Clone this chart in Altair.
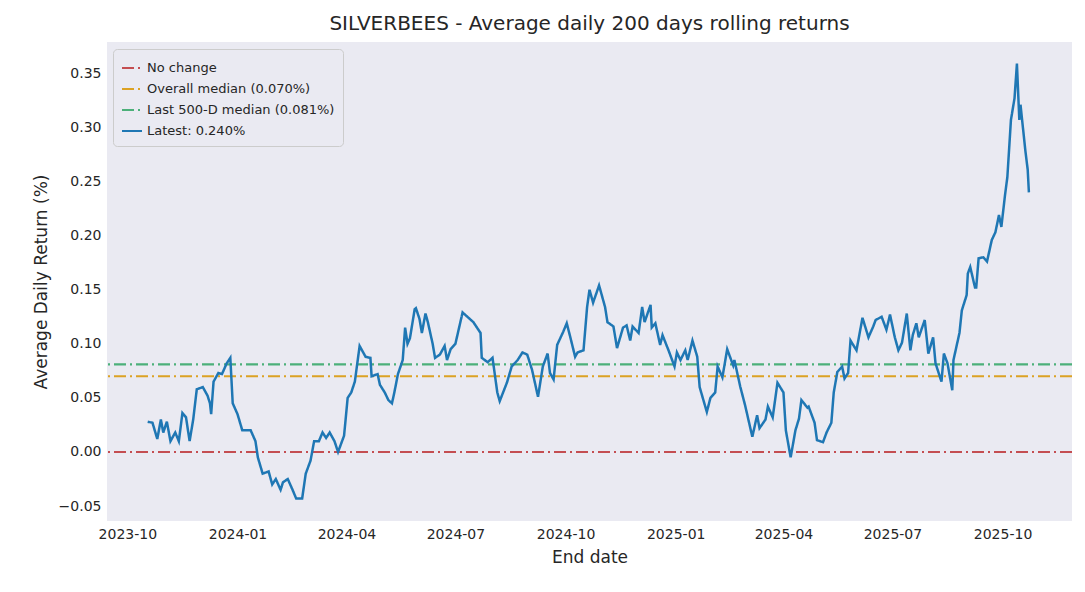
import altair as alt
import pandas as pd

# days since 2023-10-01 and the rolling average daily return (%)
days = [17, 21, 25, 28, 30, 33, 36, 40, 43, 46, 49, 52, 55, 58, 63, 67, 69, 70, 72, 76,
        79, 83, 86, 88, 92, 96, 103, 107, 109, 113, 118, 121, 124, 128, 130, 134, 138, 141, 146, 149,
        153, 156, 160, 163, 166, 169, 173, 176, 181, 184, 187, 190, 194, 197, 199, 203, 204, 209, 211, 215,
        218, 221, 223, 226, 230, 232, 234, 236, 240, 241, 244, 246, 249, 251, 255, 257, 261, 265, 267, 270,
        274, 280, 289, 295, 296, 301, 305, 309, 311, 317, 321, 326, 330, 334, 338, 343, 347, 351, 353, 356,
        359, 364, 367, 370, 374, 376, 381, 384, 386, 389, 394, 399, 401, 406, 409, 414, 417, 420, 422, 427,
        430, 432, 437, 438, 441, 445, 447, 452, 457, 459, 462, 466, 468, 472, 476, 478, 484, 487, 491, 493,
        497, 501, 506, 507, 512, 516, 522, 526, 528, 533, 535, 539, 543, 548, 550, 554, 558, 561, 563, 568,
        569, 574, 576, 581, 584, 588, 590, 593, 597, 599, 602, 604, 609, 614, 619, 623, 625, 630, 634, 637,
        641, 644, 647, 651, 654, 656, 659, 661, 666, 669, 673, 675, 680, 682, 685, 689, 690, 695, 697, 701,
        702, 704, 708, 709, 711, 715, 718, 722, 725, 728, 730, 733, 735, 738, 741, 743, 745, 746, 750, 752,
        753]
returns = [0.028, 0.027, 0.012, 0.030, 0.018, 0.028, 0.010, 0.018, 0.010, 0.036, 0.032, 0.010, 0.030, 0.058, 0.060, 0.052, 0.045, 0.035, 0.065, 0.073,
           0.072, 0.082, 0.087, 0.045, 0.035, 0.020, 0.020, 0.010, -0.005, -0.020, -0.018, -0.030, -0.025, -0.035, -0.028, -0.025, -0.035, -0.043, -0.043, -0.020,
           -0.008, 0.010, 0.010, 0.018, 0.013, 0.018, 0.010, 0.000, 0.015, 0.050, 0.055, 0.065, 0.098, 0.092, 0.088, 0.087, 0.070, 0.072, 0.062, 0.055,
           0.048, 0.045, 0.055, 0.072, 0.085, 0.115, 0.100, 0.105, 0.132, 0.133, 0.123, 0.110, 0.128, 0.120, 0.100, 0.087, 0.090, 0.098, 0.085, 0.095,
           0.100, 0.129, 0.120, 0.110, 0.087, 0.083, 0.087, 0.055, 0.047, 0.064, 0.079, 0.085, 0.092, 0.090, 0.076, 0.051, 0.079, 0.091, 0.073, 0.067,
           0.099, 0.111, 0.119, 0.106, 0.088, 0.092, 0.094, 0.134, 0.150, 0.138, 0.154, 0.134, 0.120, 0.116, 0.096, 0.115, 0.117, 0.103, 0.116, 0.110,
           0.134, 0.120, 0.136, 0.115, 0.119, 0.099, 0.108, 0.094, 0.079, 0.092, 0.085, 0.094, 0.085, 0.103, 0.088, 0.060, 0.037, 0.050, 0.055, 0.079,
           0.069, 0.095, 0.080, 0.085, 0.060, 0.043, 0.014, 0.034, 0.022, 0.030, 0.042, 0.032, 0.064, 0.055, 0.020, -0.005, 0.020, 0.031, 0.048, 0.041,
           0.042, 0.027, 0.011, 0.009, 0.018, 0.027, 0.055, 0.074, 0.079, 0.068, 0.073, 0.103, 0.094, 0.124, 0.106, 0.116, 0.122, 0.125, 0.113, 0.127,
           0.106, 0.094, 0.101, 0.128, 0.094, 0.108, 0.119, 0.106, 0.122, 0.091, 0.106, 0.082, 0.065, 0.091, 0.082, 0.057, 0.085, 0.110, 0.131, 0.145,
           0.165, 0.171, 0.152, 0.152, 0.179, 0.180, 0.176, 0.196, 0.203, 0.219, 0.208, 0.237, 0.254, 0.307, 0.327, 0.359, 0.307, 0.321, 0.279, 0.261,
           0.240]

ref_names = ["No change", "Overall median (0.070%)", "Last 500-D median (0.081%)"]
ref_values = [0.0, 0.070, 0.081]
line_name = "Latest: 0.240%"

series_order = ref_names + [line_name]
series_colors = ["#c44e52", "#dca224", "#4cb07a", "#1f77b4"]
series_dash = [[12, 4, 2, 4], [12, 4, 2, 4], [12, 4, 2, 4], [1, 0]]

dates = pd.Timestamp("2023-10-01") + pd.to_timedelta(days, unit="D")
line_df = pd.DataFrame({"date": dates, "ret": returns, "series": line_name})
ref_df = pd.DataFrame({"ret": ref_values, "series": ref_names})

color = alt.Color("series:N", scale=alt.Scale(domain=series_order, range=series_colors),
                  legend=alt.Legend(title=None, orient="none", legendX=6, legendY=7,
                                    fillColor="rgba(234,234,242,0.85)", strokeColor="#cccccc",
                                    cornerRadius=4, padding=8, labelFontSize=13, symbolType="stroke",
                                    symbolSize=400, symbolStrokeWidth=2, rowPadding=3, labelLimit=400,
                                    labelFont="DejaVu Sans", labelColor="#262626"))
dash = alt.StrokeDash("series:N", scale=alt.Scale(domain=series_order, range=series_dash), legend=None)

x_ticks = [pd.Timestamp(d).isoformat() for d in
           ["2023-10-01", "2024-01-01", "2024-04-01", "2024-07-01", "2024-10-01",
            "2025-01-01", "2025-04-01", "2025-07-01", "2025-10-01"]]

rules = alt.Chart(ref_df).mark_rule(strokeWidth=2.2).encode(
    y=alt.Y("ret:Q"), color=color, strokeDash=dash)

line = alt.Chart(line_df).mark_line(strokeWidth=2.5).encode(
    x=alt.X("date:T", title="End date",
            scale=alt.Scale(domain=["2023-09-14", "2025-11-28"]),
            axis=alt.Axis(values=x_ticks, format="%Y-%m", labelFlush=False)),
    y=alt.Y("ret:Q", title="Average Daily Return (%)",
            scale=alt.Scale(domain=[-0.0638, 0.379], nice=False, zero=False),
            axis=alt.Axis(values=[-0.05, 0, 0.05, 0.1, 0.15, 0.2, 0.25, 0.3, 0.35], format=".2f")),
    color=color, strokeDash=dash)

chart = alt.layer(rules, line).properties(
    width=965, height=479,
    title=alt.Title("SILVERBEES - Average daily 200 days rolling returns", fontSize=20,
                    fontWeight="normal", font="DejaVu Sans", color="#262626", offset=8),
    autosize=alt.AutoSizeParams(type="none"),
    padding={"left": 99, "top": 34, "right": 5, "bottom": 60},
).configure_view(fill="#eaeaf2", stroke=None).configure_axis(
    grid=False, domain=False, ticks=False, labelFont="DejaVu Sans", titleFont="DejaVu Sans",
    labelFontSize=14, titleFontSize=17, titleFontWeight="normal", labelColor="#262626",
    titleColor="#262626", labelPadding=6, titlePadding=8)

chart.save("out.html", embed_options={"renderer": "svg", "actions": False})
